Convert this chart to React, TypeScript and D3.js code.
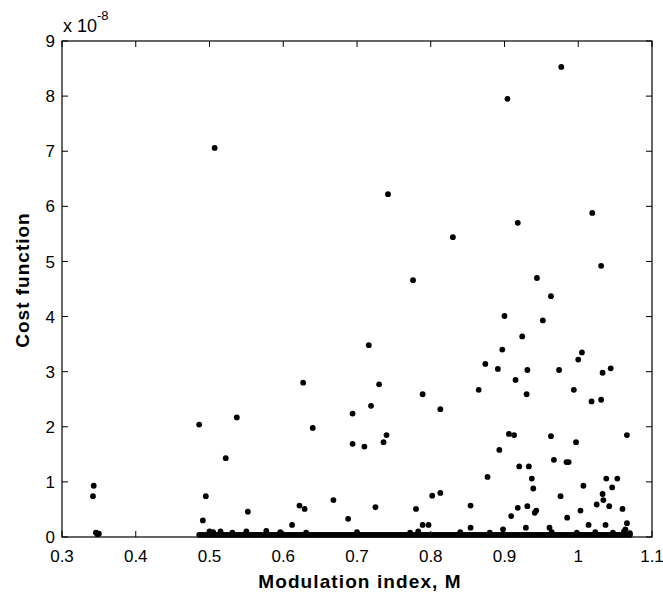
import React from "react";
import * as d3 from "d3";

const xTicks = [0.3, 0.4, 0.5, 0.6, 0.7, 0.8, 0.9, 1.0, 1.1];
const yTicks = [0, 1, 2, 3, 4, 5, 6, 7, 8, 9];
const xTickLabels = ["0.3", "0.4", "0.5", "0.6", "0.7", "0.8", "0.9", "1", "1.1"];

// scattered points: modulation index M and cost (x 1e-8)
const pointM = [
  0.343, 0.342, 0.346, 0.348, 0.350, 0.486, 0.491, 0.495, 0.507, 0.522,
  0.537, 0.552, 0.612, 0.622, 0.629, 0.627, 0.640, 0.668, 0.688, 0.694,
  0.694, 0.710, 0.716, 0.719, 0.725, 0.730, 0.736, 0.740, 0.742, 0.776,
  0.780, 0.789, 0.789, 0.797, 0.802, 0.813, 0.813, 0.830, 0.854, 0.854,
  0.865, 0.874, 0.877, 0.891, 0.893, 0.897, 0.898, 0.900, 0.904, 0.906,
  0.909, 0.913, 0.915, 0.918, 0.918, 0.920, 0.924, 0.929, 0.930, 0.931,
  0.931, 0.933, 0.937, 0.939, 0.941, 0.943, 0.944, 0.952, 0.961, 0.963,
  0.963, 0.967, 0.974, 0.976, 0.977, 0.984, 0.987, 0.985, 0.994, 0.997,
  1.000, 1.003, 1.005, 1.007, 1.014, 1.018, 1.019, 1.025, 1.031, 1.031,
  1.033, 1.033, 1.034, 1.037, 1.038, 1.042, 1.044, 1.046, 1.053, 1.060,
  1.066, 1.066, 1.064, 1.070,
];
const pointCost = [
  0.93, 0.74, 0.08, 0.05, 0.06, 2.04, 0.30, 0.74, 7.06, 1.43,
  2.17, 0.46, 0.22, 0.57, 0.51, 2.80, 1.98, 0.67, 0.33, 2.24,
  1.69, 1.64, 3.48, 2.38, 0.54, 2.77, 1.72, 1.85, 6.22, 4.66,
  0.51, 2.59, 0.22, 0.22, 0.75, 0.80, 2.32, 5.44, 0.57, 0.17,
  2.67, 3.14, 1.09, 3.05, 1.58, 3.40, 0.14, 4.01, 7.95, 1.87,
  0.38, 1.85, 2.85, 5.70, 0.53, 1.28, 3.64, 0.17, 2.59, 3.03,
  0.56, 1.28, 1.06, 0.88, 0.44, 0.48, 4.70, 3.93, 0.17, 4.37,
  1.83, 1.40, 3.03, 0.74, 8.53, 1.36, 1.36, 0.35, 2.67, 1.72,
  3.22, 0.48, 3.35, 0.93, 0.22, 2.46, 5.88, 0.59, 2.49, 4.92,
  2.98, 0.78, 0.67, 0.22, 1.06, 0.56, 3.06, 0.90, 1.06, 0.51,
  1.85, 0.25, 0.14, 0.07,
];

// points just above zero
const lowM = [
  0.500, 0.505, 0.515, 0.531, 0.550, 0.577, 0.596, 0.631, 0.700, 0.772,
  0.783, 0.840, 0.880, 0.964, 0.998, 1.023, 1.047, 1.062,
];
const lowCost = [
  0.10, 0.09, 0.10, 0.08, 0.10, 0.11, 0.09, 0.08, 0.09, 0.08,
  0.10, 0.09, 0.08, 0.09, 0.08, 0.09, 0.08, 0.10,
];

// dense band of near-zero cost values
const zeroM = [
  0.486, 0.491, 0.497, 0.502, 0.508, 0.513, 0.519, 0.524, 0.530, 0.536,
  0.541, 0.547, 0.552, 0.558, 0.563, 0.569, 0.575, 0.580, 0.586, 0.591,
  0.597, 0.602, 0.608, 0.614, 0.619, 0.625, 0.630, 0.636, 0.641, 0.647,
  0.653, 0.658, 0.664, 0.669, 0.675, 0.680, 0.686, 0.692, 0.697, 0.703,
  0.708, 0.714, 0.719, 0.725, 0.731, 0.736, 0.742, 0.747, 0.753, 0.758,
  0.764, 0.770, 0.775, 0.781, 0.786, 0.792, 0.797, 0.803, 0.809, 0.814,
  0.820, 0.825, 0.831, 0.836, 0.842, 0.848, 0.853, 0.859, 0.864, 0.870,
  0.875, 0.881, 0.887, 0.892, 0.898, 0.903, 0.909, 0.914, 0.920, 0.926,
  0.931, 0.937, 0.942, 0.948, 0.953, 0.959, 0.965, 0.970, 0.976, 0.981,
  0.987, 0.992, 0.998, 1.004, 1.009, 1.015, 1.020, 1.026, 1.031, 1.037,
  1.043, 1.048, 1.054, 1.059, 1.065, 1.070,
];
const zeroM2 = [
  0.488, 0.494, 0.499, 0.505, 0.511, 0.516, 0.522, 0.527, 0.533, 0.538,
  0.544, 0.550, 0.555, 0.561, 0.566, 0.572, 0.577, 0.583, 0.588, 0.594,
  0.600, 0.605, 0.611, 0.616, 0.622, 0.627, 0.633, 0.639, 0.644, 0.650,
  0.655, 0.661, 0.666, 0.672, 0.678, 0.683, 0.689, 0.694, 0.700, 0.705,
  0.711, 0.717, 0.722, 0.728, 0.733, 0.739, 0.744, 0.750, 0.756, 0.761,
  0.767, 0.772, 0.778, 0.783, 0.789, 0.795, 0.800, 0.806, 0.811, 0.817,
  0.822, 0.828, 0.834, 0.839, 0.845, 0.850, 0.856, 0.861, 0.867, 0.873,
  0.878, 0.884, 0.889, 0.895, 0.900, 0.906, 0.912, 0.917, 0.923, 0.928,
  0.934, 0.939, 0.945, 0.951, 0.956, 0.962, 0.967, 0.973, 0.978, 0.984,
  0.990, 0.995, 1.001, 1.006, 1.012, 1.017, 1.023, 1.029, 1.034, 1.040,
  1.045, 1.051, 1.056, 1.062, 1.068,
];
const zeroCost = 0.04;

const W = 663;
const H = 594;
const left = 62;
const right = 652;
const top = 41;
const bottom = 537;

export default function App() {
  const x = d3.scaleLinear().domain([0.3, 1.1]).range([left, right]);
  const y = d3.scaleLinear().domain([0, 9]).range([bottom, top]);
  const tickLen = 6;
  const font = "'Liberation Sans', Arial, Helvetica, sans-serif";

  const pts: [number, number][] = [];
  zeroM.forEach((m) => pts.push([m, zeroCost]));
  zeroM2.forEach((m) => pts.push([m, zeroCost]));
  lowM.forEach((m, i) => pts.push([m, lowCost[i]]));
  pointM.forEach((m, i) => pts.push([m, pointCost[i]]));

  return (
    <svg
      width={W}
      height={H}
      style={{ position: "absolute", left: 0, top: 0, background: "#fff" }}
    >
      <rect x={0} y={0} width={W} height={H} fill="#fff" />
      {xTicks.map((t) => (
        <g key={"xt" + t}>
          <line x1={x(t)} x2={x(t)} y1={bottom} y2={bottom - tickLen} stroke="#000" />
          <line x1={x(t)} x2={x(t)} y1={top} y2={top + tickLen} stroke="#000" />
        </g>
      ))}
      {yTicks.map((t) => (
        <g key={"yt" + t}>
          <line x1={left} x2={left + tickLen} y1={y(t)} y2={y(t)} stroke="#000" />
          <line x1={right} x2={right - tickLen} y1={y(t)} y2={y(t)} stroke="#000" />
        </g>
      ))}
      {pts.map(([m, c], i) => (
        <circle key={i} cx={x(m)} cy={y(c)} r={2.9} fill="#000" />
      ))}
      <rect
        x={left}
        y={top}
        width={right - left}
        height={bottom - top}
        fill="none"
        stroke="#000"
        strokeWidth={1.2}
      />
      {xTicks.map((t, i) => (
        <text
          key={"xl" + t}
          x={x(t)}
          y={562}
          textAnchor="middle"
          fontFamily={font}
          fontSize={17}
          fill="#000"
        >
          {xTickLabels[i]}
        </text>
      ))}
      {yTicks.map((t) => (
        <text
          key={"yl" + t}
          x={left - 7}
          y={y(t)}
          dy="0.36em"
          textAnchor="end"
          fontFamily={font}
          fontSize={17}
          fill="#000"
        >
          {t}
        </text>
      ))}
      <text x={63} y={32} fontFamily={font} fontSize={18} fill="#000">
        x 10
        <tspan dy={-12} fontSize={13}>
          -8
        </tspan>
      </text>
      <text
        x={(left + right) / 2 + 3}
        y={588}
        textAnchor="middle"
        fontFamily={font}
        fontWeight="bold"
        fontSize={19}
        letterSpacing={1.1}
        fill="#000"
      >
        Modulation index, M
      </text>
      <text
        transform={`translate(28.5, ${(top + bottom) / 2 - 9}) rotate(-90)`}
        textAnchor="middle"
        fontFamily={font}
        fontWeight="bold"
        fontSize={19}
        letterSpacing={1}
        fill="#000"
      >
        Cost function
      </text>
    </svg>
  );
}
